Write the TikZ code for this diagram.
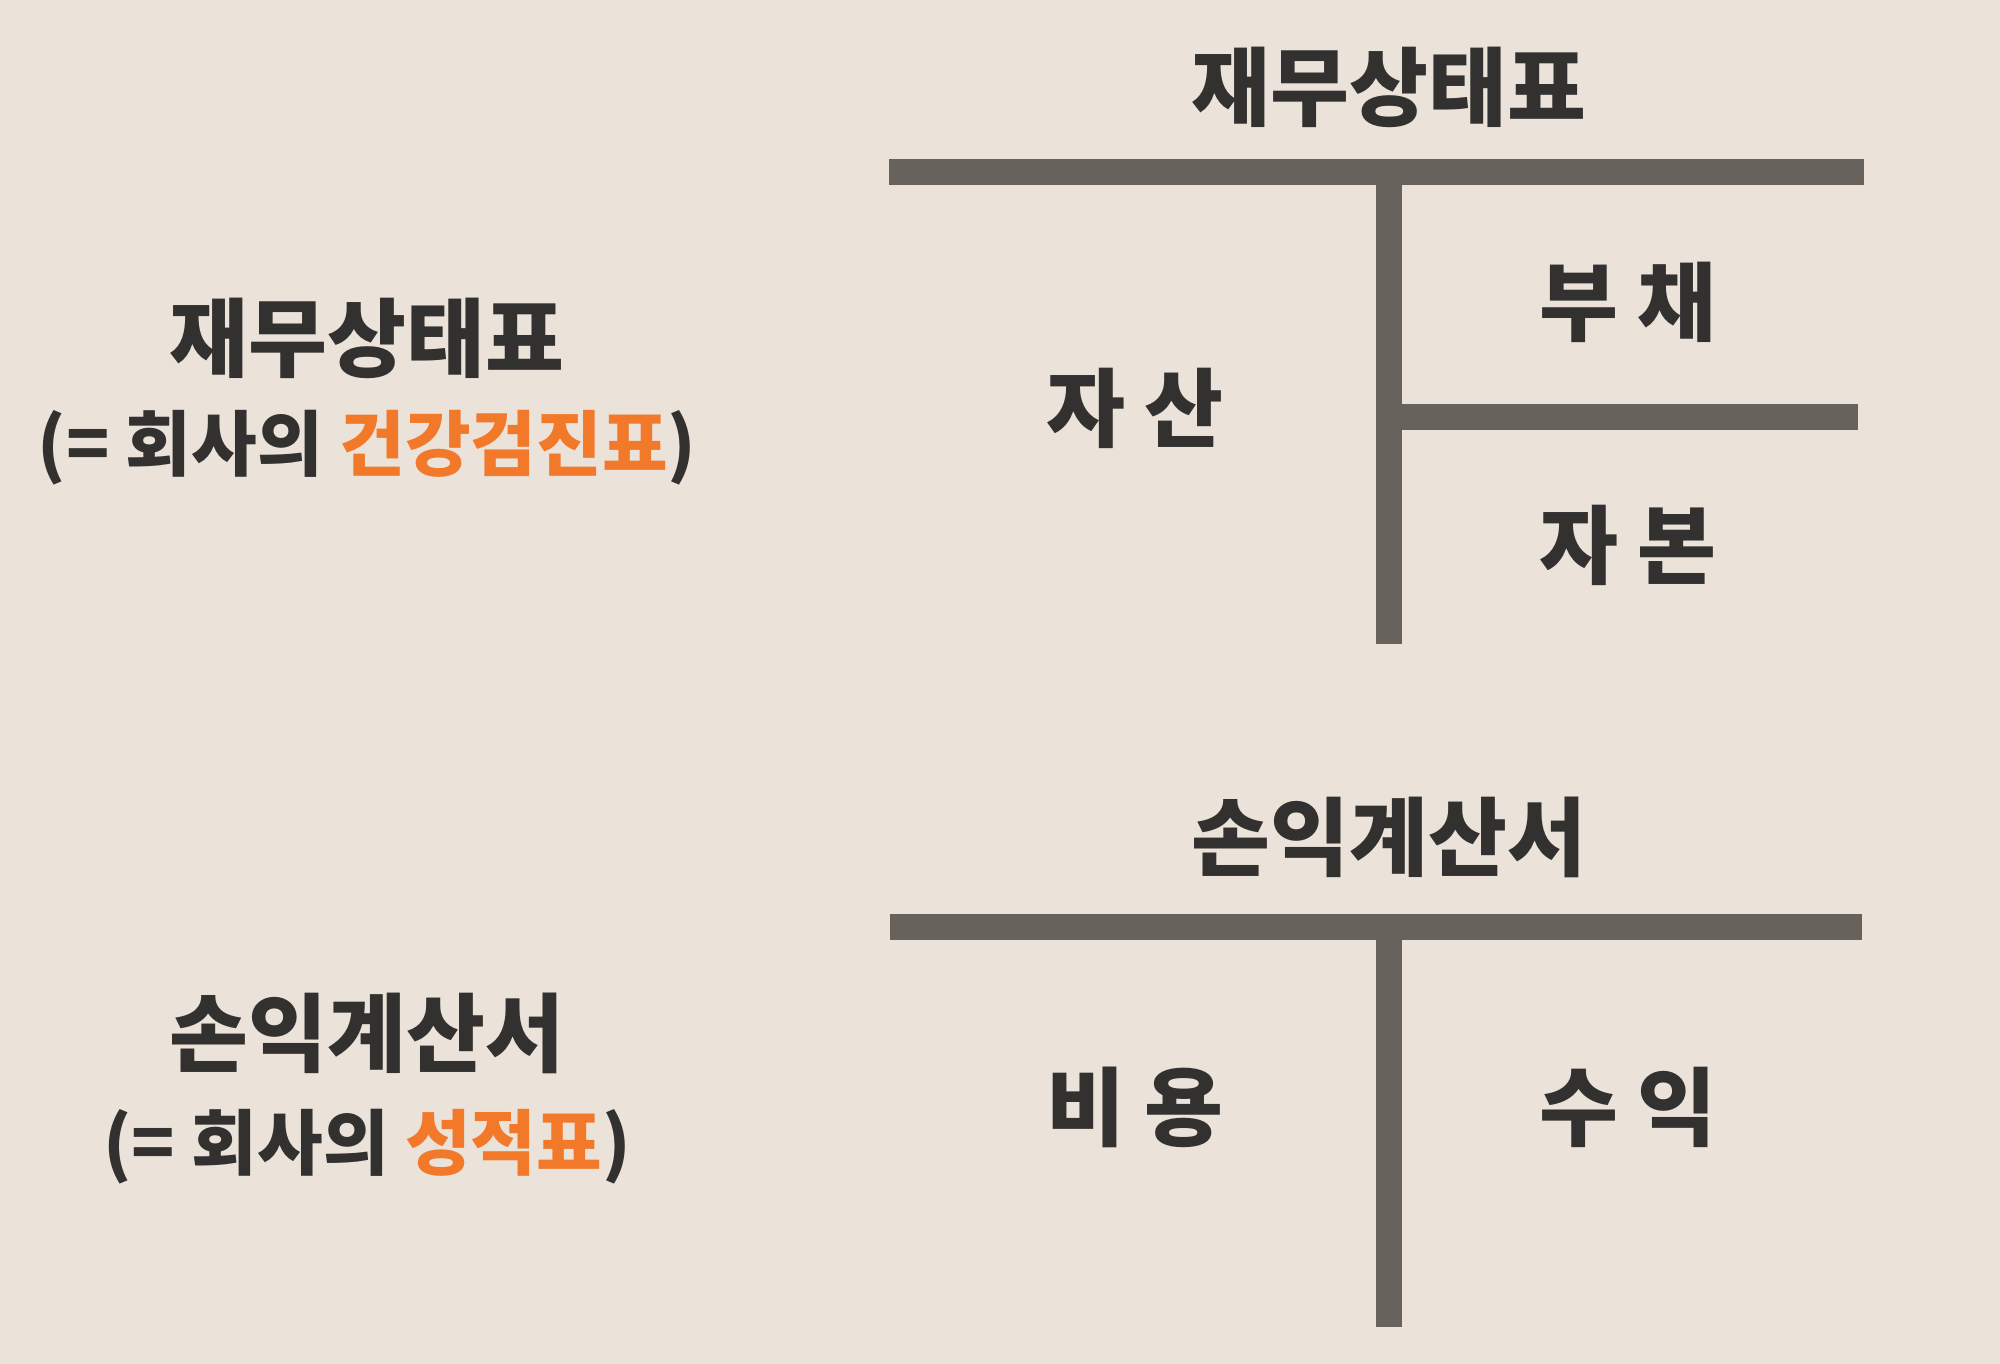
\documentclass[tikz,border=0pt]{standalone}
\usepackage{fontspec}
\setmainfont{Noto Sans CJK KR}
\definecolor{paper}{HTML}{EBE3DA}
\definecolor{ink}{HTML}{333130}
\definecolor{rule}{HTML}{68625D}
\definecolor{accent}{HTML}{F2782A}

\begin{document}
\begin{tikzpicture}[
  x=0.01cm, y=-0.01cm,
  head/.style={font=\fontsize{24.4}{29}\selectfont\bfseries, text=ink, inner sep=0pt},
  note/.style={font=\fontsize{20.3}{24}\selectfont\bfseries, text=ink, inner sep=0pt},
  acct/.style={font=\fontsize{24.4}{29}\selectfont\bfseries, text=ink, inner sep=0pt},
  bar/.style={draw=rule, line width=0.26cm}
]

% Background
\fill[paper] (0,0) rectangle (2000,1364);

% Column positions (x)
\def\xL{367}
\def\xA{1135}
\def\xT{1389}
\def\xB{1628}

% Balance sheet
\node[head] (bsname) at (\xL,338) {재무상태표};
\node[note] (bsnote) at (\xL,448) {(= 회사의 \textcolor{accent}{건강검진표})};
\node[head] (bstitle) at (\xT,87) {재무상태표};

\coordinate (bsl) at (889,172);
\coordinate (bsr) at (1864,172);
\coordinate (bsm) at (\xT,172);
\coordinate (bsb) at (\xT,644);
\coordinate (bsj) at (\xT,417);
\coordinate (bse) at (1858,417);
\draw[bar] (bsl) -- (bsr);
\draw[bar] (bsm) -- (bsb);
\draw[bar] (bsj) -- (bse);

\node[acct] (asset) at (\xA,408) {자 산};
\node[acct] (debt) at (\xB,302) {부 채};
\node[acct] (equity) at (\xB,545) {자 본};

% Income statement
\node[head] (isname) at (\xL,1033) {손익계산서};
\node[note] (isnote) at (\xL,1147) {(= 회사의 \textcolor{accent}{성적표})};
\node[head] (istitle) at (\xT,837) {손익계산서};

\coordinate (isl) at (890,927);
\coordinate (isr) at (1862,927);
\coordinate (ism) at (\xT,927);
\coordinate (isb) at (\xT,1327);
\draw[bar] (isl) -- (isr);
\draw[bar] (ism) -- (isb);

\node[acct] (cost) at (\xA,1107) {비 용};
\node[acct] (gain) at (\xB,1107) {수 익};

\end{tikzpicture}
\end{document}
